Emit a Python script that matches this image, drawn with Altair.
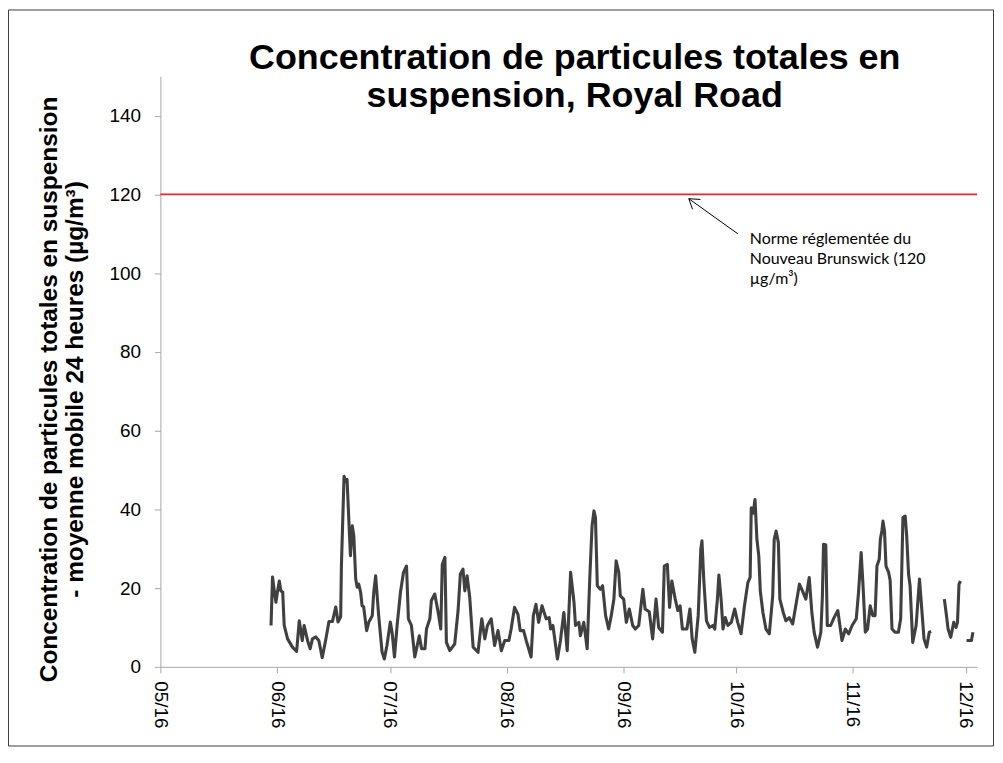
import altair as alt
import pandas as pd

# Days since 2016-05-01 (None marks a gap in the record) and 24 h rolling mean TSP (µg/m³)
days = [29.4, 29.8, 30.2, 30.7, 31.1, 31.6, 32.0, 32.5, 32.9, 33.8, 35.1, 36.2, 36.9, 37.7, 38.2, 39.1,
        39.8, 40.4, 41.3, 42.1, 43.0, 43.9, 44.8, 45.7, 46.6, 47.2, 47.9, 48.1, 48.8, 49.2, 49.6, 50.1,
        50.5, 51.0, 51.4, 51.9, 52.3, 52.7, 53.2, 53.6, 54.0, 54.8, 55.4, 56.3, 56.7, 57.2, 58.0, 58.9,
        59.5, 60.2, 61.1, 61.6, 62.2, 62.9, 63.8, 64.6, 65.4, 65.9, 66.7, 67.6, 68.8, 69.4, 70.3, 70.7,
        71.6, 72.0, 72.9, 73.8, 74.5, 74.9, 75.6, 76.0, 76.9, 78.2, 79.1, 79.7, 80.4, 80.9, 81.5, 82.2,
        83.1, 84.4, 85.4, 86.2, 86.9, 87.9, 88.8, 89.7, 90.6, 91.5, 92.6, 93.2, 94.1, 95.0, 95.6, 96.5,
        97.2, 98.5, 99.1, 99.8, 100.5, 101.4, 102.5, 103.3, 103.7, 104.3, 105.5, 106.3, 107.2, 108.1,
        109.0, 109.9, 110.3, 111.2, 111.6, 112.5, 113.4, 114.1, 114.7, 115.2, 115.6, 116.1, 116.9, 117.5,
        118.3, 119.1, 119.8, 120.5, 121.1, 121.8, 122.2, 123.1, 123.8, 124.6, 125.5, 126.2, 127.1, 128.2,
        128.8, 129.9, 130.8, 131.7, 132.4, 133.4, 133.9, 134.7, 135.3, 135.9, 136.8, 137.5, 138.1, 138.7,
        139.9, 140.7, 141.3, 142.0, 142.9, 143.6, 143.9, 144.4, 145.1, 145.9, 146.8, 147.3, 148.0, 148.4,
        149.0, 149.5, 150.1, 150.8, 151.7, 152.6, 153.4, 154.3, 155.2, 156.1, 156.7, 157.0, 157.5, 158.0,
        158.5, 159.0, 159.4, 160.1, 160.9, 161.8, 162.7, 163.1, 163.6, 164.2, 164.6, 165.5, 166.2, 167.1,
        168.0, 168.9, 169.8, 170.6, 171.5, 172.4, 173.1, 173.7, 174.6, 175.5, 175.9, 176.2, 176.8, 177.2,
        178.1, 179.0, 180.0, 181.1, 182.0, 182.9, 183.8, 184.9, 185.5, 186.2, 186.7, 187.3, 187.9, 188.6,
        189.3, 189.9, 190.4, 191.0, 191.3, 191.7, 192.0, 192.4, 192.8, 193.5, 193.9, 194.4, 195.2, 196.1,
        196.7, 197.3, 197.9, 198.3, 198.8, 199.2, 199.9, 200.8, 201.7, 202.3, 202.9, 203.6, 204.3, 204.8,
        None,
        208.3, 208.7, 209.3, 210.0, 210.8, 211.4, 211.8, 212.2, 212.6,
        None,
        214.2, 215.5, 215.9]

pm = [10.5, 22.8, 19.7, 16.4, 19.0, 21.8, 19.3, 19.0, 10.5, 7.1, 5.0, 3.9, 11.7, 6.7, 10.5, 6.7,
      4.6, 7.1, 7.6, 6.7, 2.3, 6.7, 11.5, 11.5, 15.2, 11.4, 12.7, 25.6, 48.4, 47.0, 47.6, 36.7,
      28.2, 35.8, 33.2, 22.3, 20.2, 21.0, 19.0, 15.5, 15.3, 9.2, 11.4, 13.0, 19.0, 23.1, 13.0, 3.8,
      2.0, 5.4, 11.4, 8.5, 2.5, 10.5, 19.0, 24.0, 25.6, 12.2, 10.5, 2.5, 7.9, 4.6, 4.6, 9.6,
      12.2, 16.8, 18.5, 13.9, 9.6, 26.0, 27.8, 6.2, 4.1, 5.8, 14.3, 23.5, 24.8, 19.3, 23.1, 17.6,
      5.0, 3.7, 12.2, 7.1, 10.5, 12.2, 5.4, 9.2, 4.1, 6.7, 6.7, 9.6, 15.1, 13.4, 9.2, 9.2,
      6.7, 2.5, 13.0, 15.9, 11.3, 15.5, 12.2, 12.5, 9.6, 10.5, 2.0, 6.7, 13.8, 4.1,
      24.0, 16.4, 10.5, 11.3, 7.9, 11.3, 4.6, 22.7, 35.8, 39.6, 37.9, 20.6, 19.7, 20.6,
      13.0, 9.6, 13.0, 17.2, 26.9, 24.0, 18.0, 17.2, 11.3, 14.7, 10.5, 9.6, 10.5, 19.7,
      14.7, 14.0, 7.1, 17.2, 10.0, 8.8, 25.6, 26.0, 15.1, 21.8, 17.2, 14.3, 15.5, 9.6,
      9.6, 14.7, 7.1, 3.7, 13.0, 29.9, 32.0, 21.8, 11.7, 10.0, 10.5, 9.6, 17.2, 23.3,
      17.0, 9.6, 12.5, 10.5, 11.3, 14.7, 11.3, 8.4, 15.5, 21.4, 22.7, 40.4, 39.0, 42.5,
      32.4, 28.2, 19.3, 13.8, 9.6, 8.4, 18.0, 32.4, 34.5, 31.6, 17.2, 13.8, 11.7, 12.5,
      10.9, 15.9, 21.0, 19.3, 17.2, 22.7, 13.8, 8.8, 5.0, 8.8, 18.0, 31.1, 31.0, 10.5,
      10.5, 12.5, 14.3, 6.7, 9.6, 8.4, 10.5, 12.2, 18.9, 29.0, 20.6, 8.8, 9.6, 15.5,
      13.0, 13.0, 25.6, 27.3, 32.4, 34.5, 37.0, 34.5, 25.6, 24.0, 22.0, 9.6, 8.8, 8.8,
      12.2, 37.9, 38.3, 33.2, 23.5, 20.6, 6.2, 10.5, 22.3, 14.7, 7.1, 5.0, 8.8, 9.0,
      None,
      17.2, 14.3, 9.6, 7.5, 11.3, 10.0, 11.3, 21.0, 21.8,
      None,
      6.7, 6.7, 8.8]

tick_months = [5, 6, 7, 8, 9, 10, 11, 12]
y_ticks = [0, 20, 40, 60, 80, 100, 120, 140]
limit_value = 120
title_lines = "Concentration de particules totales en\nsuspension, Royal Road"
y_title = ["Concentration de particules totales en suspension",
           "- moyenne mobile 24 heures (µg/m³)"]
note_text = "Norme réglementée du\nNouveau Brunswick (120\nµg/m³)"
note_day, note_val = 156.6, 107.4
arrow_tip = (140.4, 118.9)
arrow_tail = (153.4, 110.0)
arrow_wing1 = (143.5, 118.7)
arrow_wing2 = (141.4, 116.2)

base = pd.Timestamp("2016-05-01")


def ts(d):
    return (base + pd.Timedelta(days=d)).strftime("%Y-%m-%dT%H:%M:%S")


rows = []
seg = 0
for d, v in zip(days, pm):
    if d is None:
        seg += 1
        continue
    rows.append({"date": ts(d), "value": v, "seg": seg})
df = pd.DataFrame(rows)

FONT = "Liberation Sans"
x_scale = alt.Scale(domain=[alt.DateTime(year=2016, month=5, date=1),
                            alt.DateTime(year=2016, month=12, date=4)])
y_scale = alt.Scale(domain=[0, 150])

x_axis = alt.Axis(title=None, format="%m/%y", values=[alt.DateTime(year=2016, month=m, date=1) for m in tick_months],
                  labelAngle=90, labelFontSize=19, labelFont=FONT, labelColor="#000000", labelPadding=8,
                  tickSize=6, tickColor="#a6a6a6", domainColor="#a6a6a6", grid=False, labelFlush=False,
                  labelOverlap=False)
y_axis = alt.Axis(title=y_title, values=y_ticks, labelFontSize=19, labelFont=FONT, labelColor="#000000",
                  labelPadding=14, tickSize=6, tickColor="#a6a6a6", domainColor="#a6a6a6", grid=False,
                  titleFont=FONT, titleFontSize=24.5, titleFontWeight="bold", titleColor="#000000",
                  titleX=-104, titleY=314, titleAngle=270, titleBaseline="alphabetic", titleAlign="center",
                  titleLineHeight=26)

line = alt.Chart(df).mark_line(color="#404040", strokeWidth=3.1, strokeJoin="round").encode(
    x=alt.X("date:T", scale=x_scale, axis=x_axis),
    y=alt.Y("value:Q", scale=y_scale, axis=y_axis),
    detail="seg:N",
)

limit = alt.Chart(pd.DataFrame({"y": [limit_value]})).mark_rule(color="#e8262a", strokeWidth=1.6).encode(
    y=alt.Y("y:Q", scale=y_scale)
)

arrow_df = pd.DataFrame({
    "x": [ts(arrow_tail[0]), ts(arrow_tip[0]), ts(arrow_tip[0])],
    "y": [arrow_tail[1], arrow_tip[1], arrow_tip[1]],
    "x2": [ts(arrow_tip[0]), ts(arrow_wing1[0]), ts(arrow_wing2[0])],
    "y2": [arrow_tip[1], arrow_wing1[1], arrow_wing2[1]],
})
arrow = alt.Chart(arrow_df).mark_rule(color="#000000", strokeWidth=1).encode(
    x=alt.X("x:T", scale=x_scale), x2="x2:T", y=alt.Y("y:Q", scale=y_scale), y2="y2:Q"
)

note = alt.Chart(pd.DataFrame({"date": [ts(note_day)], "value": [note_val], "t": [note_text]})).mark_text(
    align="left", baseline="alphabetic", font="Lato", fontSize=16, lineBreak="\n", lineHeight=20, color="#000000"
).encode(x=alt.X("date:T", scale=x_scale), y=alt.Y("value:Q", scale=y_scale), text="t:N")

title = alt.Chart(pd.DataFrame({"t": [title_lines]})).mark_text(
    align="center", baseline="alphabetic", font=FONT, fontSize=36, fontWeight="bold",
    lineBreak="\n", lineHeight=38, color="#000000"
).encode(x=alt.value(416), y=alt.value(-7), text="t:N")

frame = alt.Chart(pd.DataFrame({"a": [0]})).mark_rect(fillOpacity=0, stroke="#3c3c3c", strokeWidth=1).encode(
    x=alt.value(-152.5), x2=alt.value(836.5), y=alt.value(-66.5), y2=alt.value(672.5)
)

chart = alt.layer(limit, line, arrow, note, title, frame).properties(
    width=820, height=593,
    autosize=alt.AutoSizeParams(type="none"),
    padding={"left": 153, "top": 67, "right": 18, "bottom": 82},
    background="white",
).configure_view(strokeWidth=0)

chart.save("out.html", embed_options={"renderer": "svg", "actions": False})
